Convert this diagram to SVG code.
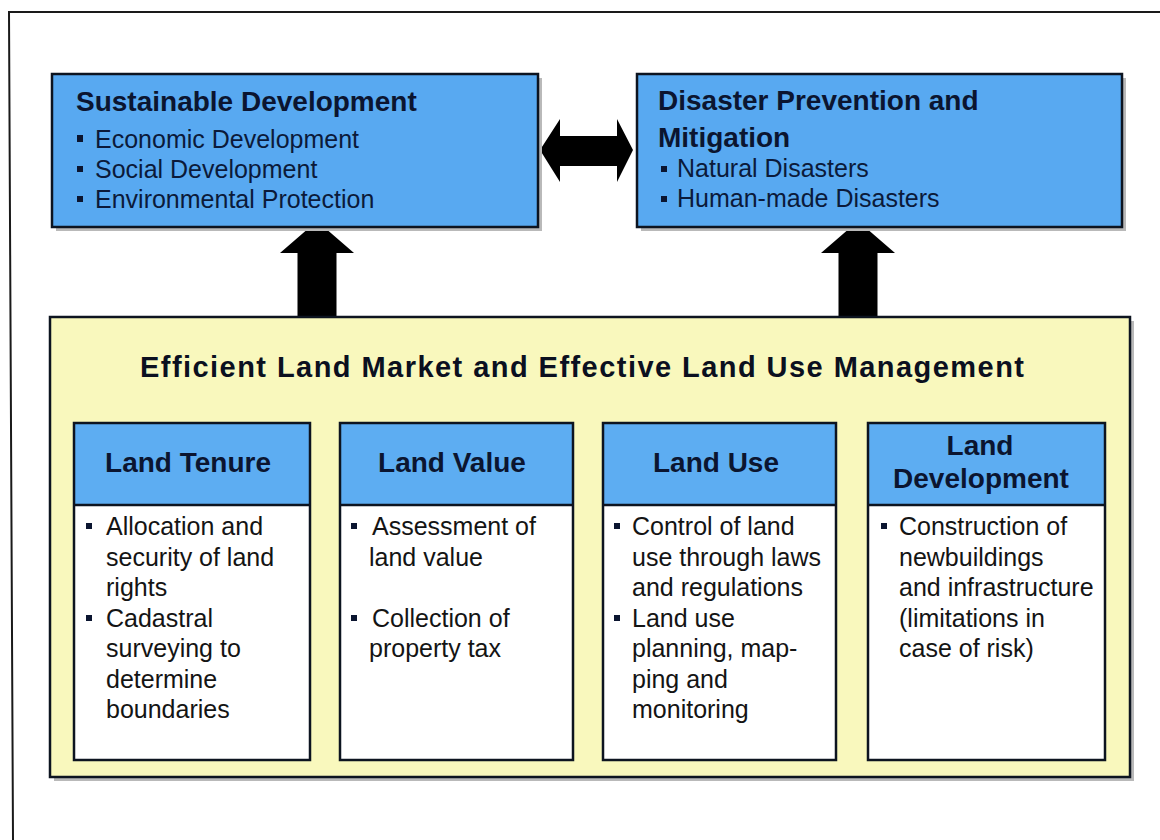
<svg xmlns="http://www.w3.org/2000/svg" width="1160" height="840" viewBox="0 0 1160 840">
  <style>
    .frame { fill: none; stroke: #1a1a1a; stroke-width: 2; }
    .shadow { fill: #b9b9b9; }
    .topbox { fill: #58a9f1; stroke: #0d1420; stroke-width: 2.5; }
    .band { fill: #f9f8bd; stroke: #0d1420; stroke-width: 2.5; }
    .card { fill: #ffffff; }
    .cardhead { fill: #5dadf2; }
    .edge { fill: none; stroke: #0d1420; stroke-width: 2.5; }
    .arrow { fill: #000000; }
    .bullet { fill: #0b1530; }
    text { font-family: "Liberation Sans", Arial, sans-serif; }
    .h { font-size: 28px; font-weight: bold; fill: #0b1530; }
    .hc { font-size: 28px; font-weight: bold; fill: #0b1530; text-anchor: middle; }
    .title { font-size: 29px; font-weight: bold; fill: #0b1020; }
    .b { font-size: 25px; fill: #0b1a3a; }
    .t { font-size: 25px; fill: #141414; }
  </style>

  <!-- outer frame -->
  <path class="frame" d="M 1160 12 L 9 12 L 13 840"/>

  <!-- connectors (drawn first so the box edges sit on top of the arrow tips) -->
  <g id="connectors">
    <polygon class="arrow" points="540,150 560,119 560,136 617,136 617,119 633,150 617,182 617,166 560,166 560,182"/>
    <polygon class="arrow" points="317,221 354,253 336.5,253 336.5,318 297.5,318 297.5,253 280,253"/>
    <polygon class="arrow" points="858,221 895,253 877.5,253 877.5,318 838.5,318 838.5,253 821,253"/>
  </g>

  <!-- top left -->
  <g id="sustainable-development">
    <rect class="shadow" x="56" y="78" width="486" height="153"/>
    <rect class="topbox" x="52" y="74" width="486" height="153"/>
    <text class="h" x="76" y="111">Sustainable Development</text>
    <rect class="bullet" x="77" y="135" width="6" height="7"/>
    <text class="b" x="95" y="148">Economic Development</text>
    <rect class="bullet" x="77" y="166" width="6" height="6"/>
    <text class="b" x="95" y="178">Social Development</text>
    <rect class="bullet" x="77" y="196" width="6" height="6"/>
    <text class="b" x="95" y="208">Environmental Protection</text>
  </g>

  <!-- top right -->
  <g id="disaster-prevention">
    <rect class="shadow" x="641" y="78" width="485" height="153"/>
    <rect class="topbox" x="637" y="74" width="485" height="153"/>
    <text class="h" x="658" y="110">Disaster Prevention and</text>
    <text class="h" x="658" y="147">Mitigation</text>
    <rect class="bullet" x="661" y="166" width="6" height="6"/>
    <text class="b" x="677" y="177">Natural Disasters</text>
    <rect class="bullet" x="661" y="196" width="6" height="6"/>
    <text class="b" x="677" y="207">Human-made Disasters</text>
  </g>

  <!-- land management band -->
  <g id="land-management">
    <rect class="shadow" x="54" y="321" width="1080" height="460"/>
    <rect class="band" x="50" y="317" width="1080" height="460"/>
    <text class="title" x="140" y="377" textLength="884" lengthAdjust="spacing">Efficient Land Market and Effective Land Use Management</text>
  </g>

  <g id="land-tenure">
    <rect class="card" x="74" y="423" width="236" height="337"/>
    <rect class="cardhead" x="74" y="423" width="236" height="82"/>
    <line class="edge" x1="74" y1="505" x2="310" y2="505"/>
    <rect class="edge" x="74" y="423" width="236" height="337"/>
    <text class="hc" x="188" y="472">Land Tenure</text>
    <rect class="bullet" x="86" y="523" width="6" height="6"/>
    <text class="t" x="106" y="535">Allocation and</text>
    <text class="t" x="106" y="565.5">security of land</text>
    <text class="t" x="106" y="596">rights</text>
    <rect class="bullet" x="86" y="615" width="6" height="6"/>
    <text class="t" x="106" y="626.5">Cadastral</text>
    <text class="t" x="106" y="657">surveying to</text>
    <text class="t" x="106" y="687.5">determine</text>
    <text class="t" x="106" y="718">boundaries</text>
  </g>

  <g id="land-value">
    <rect class="card" x="340" y="423" width="233" height="337"/>
    <rect class="cardhead" x="340" y="423" width="233" height="82"/>
    <line class="edge" x1="340" y1="505" x2="573" y2="505"/>
    <rect class="edge" x="340" y="423" width="233" height="337"/>
    <text class="hc" x="452" y="472">Land Value</text>
    <rect class="bullet" x="351" y="523" width="6" height="6"/>
    <text class="t" x="372" y="535">Assessment of</text>
    <text class="t" x="369" y="565.5">land value</text>
    <rect class="bullet" x="351" y="615" width="6" height="6"/>
    <text class="t" x="372" y="626.5">Collection of</text>
    <text class="t" x="369" y="657">property tax</text>
  </g>

  <g id="land-use">
    <rect class="card" x="603" y="423" width="233" height="337"/>
    <rect class="cardhead" x="603" y="423" width="233" height="82"/>
    <line class="edge" x1="603" y1="505" x2="836" y2="505"/>
    <rect class="edge" x="603" y="423" width="233" height="337"/>
    <text class="hc" x="716" y="472">Land Use</text>
    <rect class="bullet" x="614" y="523" width="6" height="6"/>
    <text class="t" x="632" y="535">Control of land</text>
    <text class="t" x="632" y="565.5">use through laws</text>
    <text class="t" x="632" y="596">and regulations</text>
    <rect class="bullet" x="614" y="615" width="6" height="6"/>
    <text class="t" x="632" y="626.5">Land use</text>
    <text class="t" x="632" y="657">planning, map-</text>
    <text class="t" x="632" y="687.5">ping and</text>
    <text class="t" x="632" y="718">monitoring</text>
  </g>

  <g id="land-development">
    <rect class="card" x="868" y="423" width="237" height="337"/>
    <rect class="cardhead" x="868" y="423" width="237" height="82"/>
    <line class="edge" x1="868" y1="505" x2="1105" y2="505"/>
    <rect class="edge" x="868" y="423" width="237" height="337"/>
    <text class="hc" x="980" y="455">Land</text>
    <text class="hc" x="981" y="488">Development</text>
    <rect class="bullet" x="881" y="523" width="6" height="6"/>
    <text class="t" x="899" y="535">Construction of</text>
    <text class="t" x="899" y="565.5">newbuildings</text>
    <text class="t" x="899" y="596">and infrastructure</text>
    <text class="t" x="899" y="626.5">(limitations in</text>
    <text class="t" x="899" y="657">case of risk)</text>
  </g>
</svg>
